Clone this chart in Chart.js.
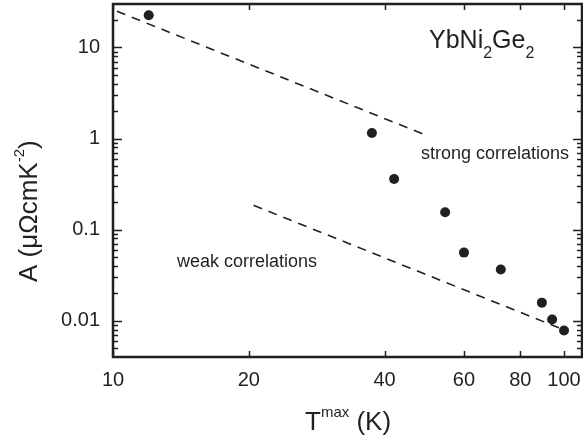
<!DOCTYPE html>
<html><head><meta charset="utf-8">
<script src="https://cdn.jsdelivr.net/npm/chart.js@4.4.1/dist/chart.umd.min.js"></script>
<style>html,body{margin:0;padding:0;background:#fff}#wrap{width:583px;height:438px;position:relative}</style>
</head><body><div id="wrap"><canvas id="c"></canvas></div>
<script>
// ---- data ----
const tmax = [12, 37.5, 42, 54.5, 60, 72.4, 89.3, 94.1, 100];
const aCoef = [22.6, 1.15, 0.36, 0.155, 0.056, 0.0366, 0.0158, 0.0103, 0.0078];
const strongT = [10.2, 49.2];
const strongA = [25, 1.1];
const weakT = [20.5, 99];
const weakA = [0.185, 0.0081];
const xTickValues = [10, 20, 40, 60, 80, 100];
const xTickLabels = ['10', '20', '40', '60', '80', '100'];
const yTickValues = [0.01, 0.1, 1, 10];
const yTickLabels = ['0.01', '0.1', '1', '10'];
const yMinorValues = [0.004,0.005,0.006,0.007,0.008,0.009,0.02,0.03,0.04,0.05,0.06,0.07,0.08,0.09,
  0.2,0.3,0.4,0.5,0.6,0.7,0.8,0.9,2,3,4,5,6,7,8,9,20];

const FONT = '"Liberation Sans", Arial, Helvetica, sans-serif';
const INK = '#231f20';

function richText(ctx, parts, x, y) {
  let cx = x;
  for (const p of parts) {
    ctx.font = p.size + 'px ' + FONT;
    ctx.fillText(p.t, cx, y + (p.dy || 0));
    cx += ctx.measureText(p.t).width;
  }
}

function noPad(s) { s.paddingTop = 0; s.paddingBottom = 0; s.paddingLeft = 0; s.paddingRight = 0; }

const framePlugin = {
  id: 'frame',
  afterDraw(chart) {
    const {ctx, chartArea: a, scales: {x, y}} = chart;
    ctx.save();
    ctx.strokeStyle = INK;
    ctx.lineWidth = 1.5;
    for (const v of yTickValues.concat(yMinorValues)) {
      const len = yTickValues.includes(v) ? 9 : 5;
      const py = Math.round(y.getPixelForValue(v)) + 0.5;
      if (py < a.top || py > a.bottom) continue;
      ctx.beginPath();
      ctx.moveTo(a.left, py); ctx.lineTo(a.left + len, py);
      ctx.moveTo(a.right, py); ctx.lineTo(a.right - len, py);
      ctx.stroke();
    }
    for (const v of xTickValues) {
      const px = Math.round(x.getPixelForValue(v)) + 0.5;
      ctx.beginPath();
      ctx.moveTo(px, a.bottom); ctx.lineTo(px, a.bottom - 6);
      ctx.moveTo(px, a.top); ctx.lineTo(px, a.top + 6);
      ctx.stroke();
    }
    ctx.lineWidth = 2.5;
    ctx.strokeRect(a.left, a.top, a.right - a.left, a.bottom - a.top);

    ctx.fillStyle = INK;
    ctx.textBaseline = 'alphabetic';
    ctx.textAlign = 'left';
    richText(ctx, [{t:'YbNi',size:25},{t:'2',size:16,dy:10},{t:'Ge',size:25},{t:'2',size:16,dy:10}], 429, 48);
    richText(ctx, [{t:'strong correlations',size:18}], 421, 159);
    richText(ctx, [{t:'weak correlations',size:18}], 177, 267);
    richText(ctx, [{t:'T',size:26},{t:'max',size:15,dy:-13},{t:' (K)',size:26}], 305, 430);
    ctx.translate(37, 282);
    ctx.rotate(-Math.PI / 2);
    richText(ctx, [{t:'A (\u03bc\u03a9cmK',size:26},{t:'-2',size:15,dy:-13},{t:')',size:26}], 0, 0);
    ctx.restore();
  }
};

new Chart(document.getElementById('c'), {
  type: 'scatter',
  data: {
    datasets: [
      { data: tmax.map((t, i) => ({x: t, y: aCoef[i]})), pointRadius: 5, pointBackgroundColor: INK,
        pointBorderColor: INK, pointBorderWidth: 0, showLine: false },
      { data: strongT.map((t, i) => ({x: t, y: strongA[i]})), showLine: true, pointRadius: 0,
        borderColor: INK, borderWidth: 1.6, borderDash: [9, 7] },
      { data: weakT.map((t, i) => ({x: t, y: weakA[i]})), showLine: true, pointRadius: 0,
        borderColor: INK, borderWidth: 1.6, borderDash: [9, 7] }
    ]
  },
  options: {
    responsive: true, maintainAspectRatio: false, animation: false,
    layout: { autoPadding: false, padding: { top: 4, right: 1, left: 0, bottom: 0 } },
    plugins: { legend: { display: false }, tooltip: { enabled: false } },
    scales: {
      x: {
        type: 'logarithmic', min: 10, max: 109.6,
        grid: { display: false, drawTicks: false }, border: { display: false },
        afterBuildTicks: s => { s.ticks = xTickValues.map(v => ({value: v})); },
        afterFit: s => { s.height = 81; noPad(s); },
        ticks: { autoSkip: false, maxRotation: 0, padding: 11, color: INK,
          font: { family: FONT, size: 20 },
          callback: (v, i) => xTickLabels[i] }
      },
      y: {
        type: 'logarithmic', min: 0.004, max: 30,
        grid: { display: false, drawTicks: false }, border: { display: false },
        afterBuildTicks: s => { s.ticks = yTickValues.map(v => ({value: v})); },
        afterFit: s => { s.width = 113; noPad(s); },
        ticks: { autoSkip: false, padding: 13, color: INK,
          font: { family: FONT, size: 20 },
          callback: (v, i) => yTickLabels[i] }
      }
    }
  },
  plugins: [framePlugin]
});
</script></body></html>
